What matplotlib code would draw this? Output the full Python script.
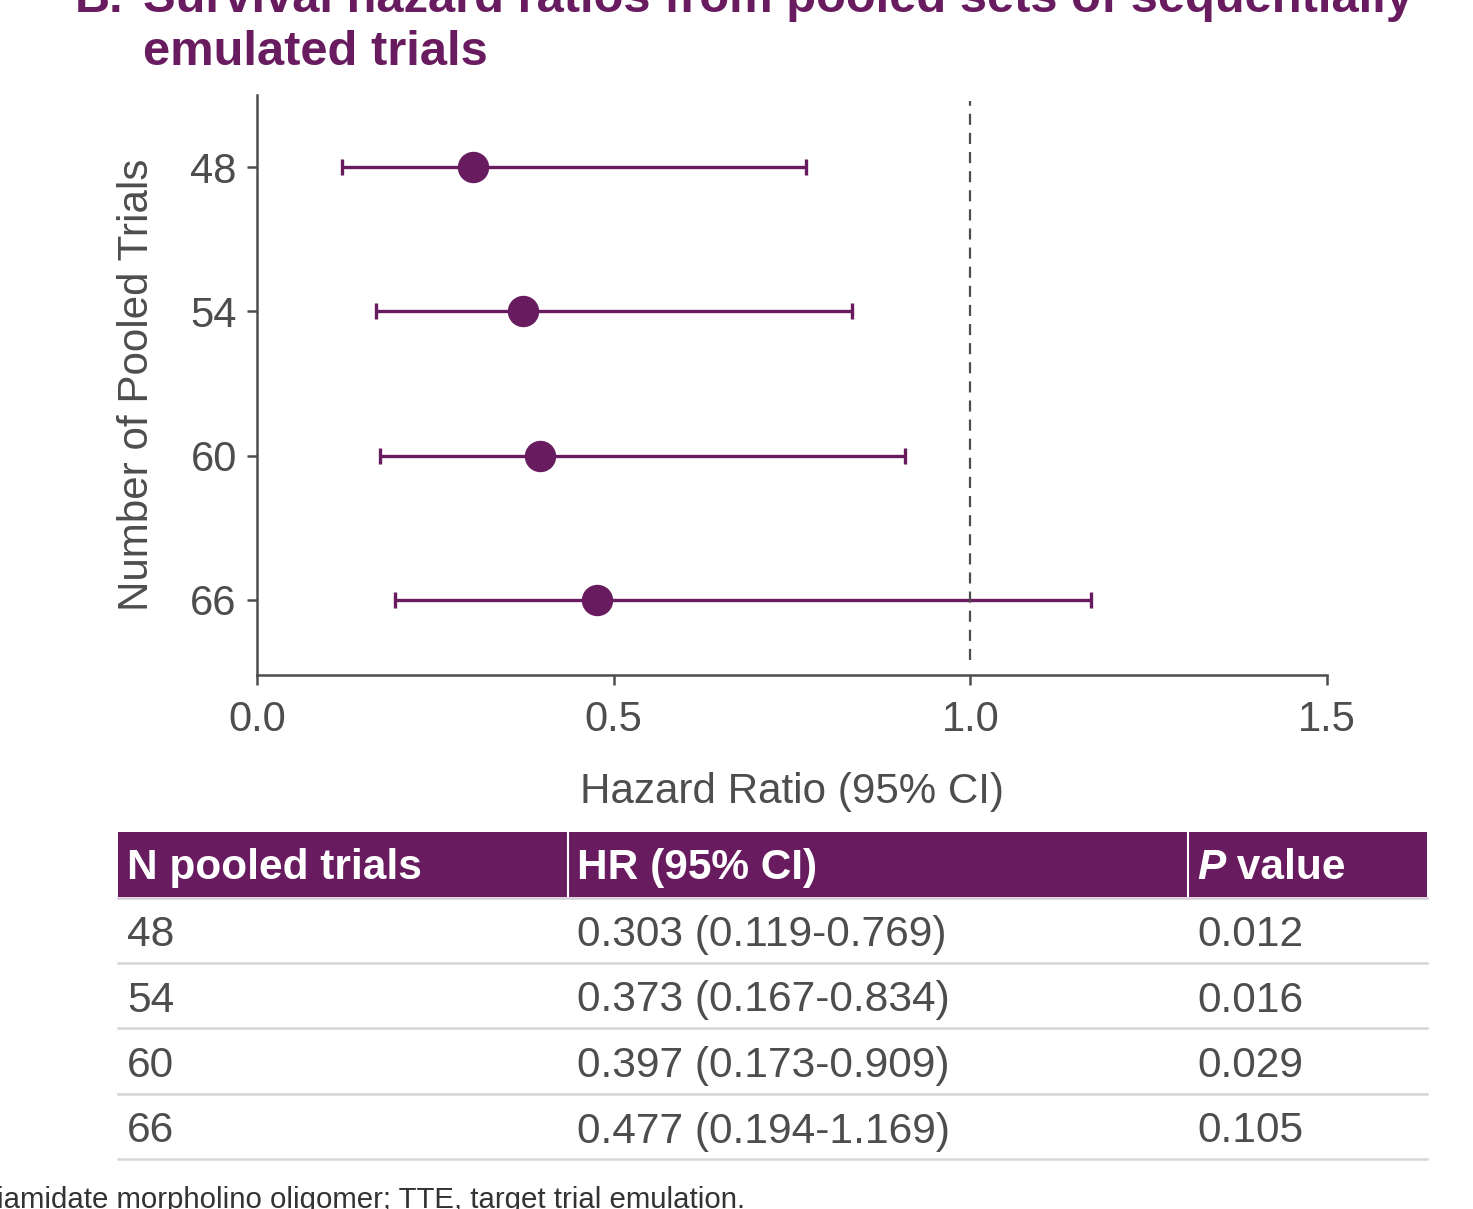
import numpy as np
import matplotlib
matplotlib.use("Agg")
import matplotlib.pyplot as plt
from matplotlib.patches import Rectangle

plt.rcParams['font.family'] = ['Liberation Sans', 'DejaVu Sans']

# Pooled sequential target-trial emulation results
n_trials = [48, 54, 60, 66]
hr = [0.303, 0.373, 0.397, 0.477]
ci_low = [0.119, 0.167, 0.173, 0.194]
ci_high = [0.769, 0.834, 0.909, 1.169]
p_values = ["0.012", "0.016", "0.029", "0.105"]

x_ticks = [0.0, 0.5, 1.0, 1.5]
table_headers = ["N pooled trials", "HR (95% CI)", "P value"]

PURPLE = "#681c5f"
GREY = "#4d4d4d"
W, H = 1473, 1209

fig = plt.figure(figsize=(W / 100, H / 100), dpi=100)

# ---- forest plot ----
ax = fig.add_axes([257 / W, 1 - 675 / H, 1070 / W, 580 / H])
hr_a = np.array(hr)
xerr = [hr_a - np.array(ci_low), np.array(ci_high) - hr_a]
ax.errorbar(hr, n_trials, xerr=xerr, fmt='o', color=PURPLE, ms=21.6,
            elinewidth=2.4, capsize=5.8, capthick=2.4, zorder=3)
# reference line at HR = 1
ax.axvline(1.0, ymin=0.026, ymax=0.99, color=GREY, lw=1.6,
           ls=(0, (5, 3.6)), zorder=4)

ax.set_xlim(0, 1.5)
ax.set_ylim(69.12, 45.0)
ax.set_xticks(x_ticks)
ax.set_xticklabels([f"{t:.1f}" for t in x_ticks])
ax.set_yticks(n_trials)
ax.set_yticklabels([str(n) for n in n_trials])

for side in ['top', 'right']:
    ax.spines[side].set_visible(False)
for side in ['left', 'bottom']:
    ax.spines[side].set_color(GREY)
    ax.spines[side].set_linewidth(1.8)
ax.tick_params(colors=GREY, labelcolor=GREY, labelsize=30, width=1.8, length=7)
ax.tick_params(axis='x', pad=11)
ax.tick_params(axis='y', pad=7.5)
ax.set_xlabel("Hazard Ratio (95% CI)", fontsize=30.3, color=GREY, labelpad=23)
ax.set_ylabel("Number of Pooled Trials", fontsize=30.3, color=GREY, labelpad=24)

# ---- overlay for title, table and footnote (pixel coordinates) ----
ov = fig.add_axes([0, 0, 1, 1])
ov.set_xlim(0, W)
ov.set_ylim(H, 0)
ov.axis('off')
ov.patch.set_visible(False)

ov.text(75, 12, "B.", fontsize=35, fontweight='bold', color=PURPLE, va='baseline')
ov.text(143, 12, "Survival hazard ratios from pooled sets of sequentially",
        fontsize=35.2, fontweight='bold', color=PURPLE, va='baseline')
ov.text(143, 65, "emulated trials", fontsize=35.2, fontweight='bold',
        color=PURPLE, va='baseline')

# table
col_edges = [118, 568, 1188, 1427]
text_x = [127, 577, 1197]
head_top, head_bot = 832, 897
row_h = 65.5

for i in range(3):
    ov.add_patch(Rectangle((col_edges[i], head_top), col_edges[i + 1] - col_edges[i],
                           head_bot - head_top, facecolor=PURPLE, edgecolor='none'))
for xe in col_edges[1:3]:
    ov.plot([xe, xe], [head_top, head_bot], color='white', lw=1.5)
ov.plot([118, 1427], [head_bot + 1, head_bot + 1], color='#d9cdd7', lw=1.8)

ov.text(text_x[0], head_top + 47, table_headers[0], fontsize=30.5, fontweight='bold',
        color='white', va='baseline')
ov.text(text_x[1], head_top + 47, table_headers[1], fontsize=30.5, fontweight='bold',
        color='white', va='baseline')
p_txt = ov.text(text_x[2], head_top + 47, table_headers[2].split()[0], fontsize=30.5,
                fontweight='bold', fontstyle='italic', color='white', va='baseline')
ov.annotate(" " + table_headers[2].split()[1], xy=(1, 0), xycoords=p_txt,
            fontsize=30.5, fontweight='bold', color='white', va='bottom', ha='left')

for i, n in enumerate(n_trials):
    top = head_bot + row_h * i
    cells = [str(n), f"{hr[i]:.3f} ({ci_low[i]:.3f}-{ci_high[i]:.3f})", p_values[i]]
    for x, c in zip(text_x, cells):
        ov.text(x, top + 49, c, fontsize=30.6, color=GREY, va='baseline')
    ov.plot([118, 1427], [top + row_h, top + row_h], color='#d6d6d6', lw=1.8)

ov.text(745, 1208, "PMO, phosphorodiamidate morpholino oligomer; TTE, target trial emulation.",
        fontsize=21.15, color='#333333', ha='right', va='baseline')

fig.savefig("out.png", dpi=100)
